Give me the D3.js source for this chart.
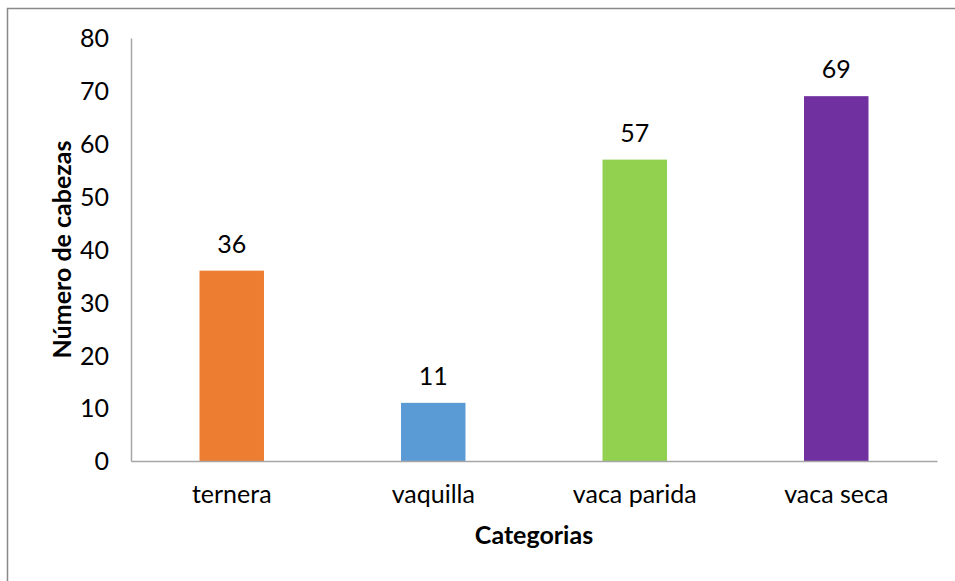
<!DOCTYPE html>
<html lang="es">
<head>
<meta charset="UTF-8">
<title>Número de cabezas por categoría</title>
<script src="https://d3js.org/d3.v7.min.js"></script>
<style>
  body { margin: 0; background: #fff; }
  text { font-family: Lato, "Open Sans", sans-serif; fill: #000; }
</style>
</head>
<body>
<svg width="955" height="581"></svg>
<script>
// datos
const categorias = ["ternera", "vaquilla", "vaca parida", "vaca seca"];
const cabezas = [36, 11, 57, 69];
const colores = ["#ed7d31", "#5b9bd5", "#92d050", "#7030a0"];
const yTicks = [0, 10, 20, 30, 40, 50, 60, 70, 80];

const svg = d3.select("svg");
const margin = {top: 38, right: 18, bottom: 120, left: 131};
const width = 955 - margin.left - margin.right;
const height = 581 - margin.top - margin.bottom;
const fs = "25px";

// marco del gráfico
svg.append("rect")
    .attr("x", 7.5).attr("y", 8.5)
    .attr("width", 960).attr("height", 600)
    .attr("fill", "none")
    .attr("stroke", "#898989")
    .attr("stroke-width", 1.5);

const g = svg.append("g").attr("transform", `translate(${margin.left},${margin.top})`);

const x = d3.scaleBand()
    .domain(categorias)
    .range([0, width])
    .paddingInner(0.68)
    .paddingOuter(0.34);

const y = d3.scaleLinear()
    .domain([0, 80])
    .range([height, 0]);

// eje Y
const yAxis = g.append("g")
    .call(d3.axisLeft(y).tickValues(yTicks).tickSize(0).tickPadding(22));
yAxis.select(".domain").attr("stroke", "#a6a6a6").attr("stroke-width", 1.5);
yAxis.selectAll("text").style("font-size", fs).attr("dy", "0.35em");

// barras
g.selectAll(".bar")
    .data(cabezas)
    .enter().append("rect")
    .attr("class", "bar")
    .attr("x", (d, i) => x(categorias[i]))
    .attr("y", d => y(d))
    .attr("width", x.bandwidth())
    .attr("height", d => height - y(d))
    .attr("fill", (d, i) => colores[i]);

// etiquetas de datos
g.selectAll(".label")
    .data(cabezas)
    .enter().append("text")
    .attr("class", "label")
    .attr("x", (d, i) => x(categorias[i]) + x.bandwidth() / 2)
    .attr("y", d => y(d) - 18)
    .attr("text-anchor", "middle")
    .style("font-size", fs)
    .text(d => d);

// eje X
const xAxis = g.append("g")
    .attr("transform", `translate(0,${height})`)
    .call(d3.axisBottom(x).tickSize(0).tickPadding(24));
xAxis.select(".domain").attr("stroke", "#a6a6a6").attr("stroke-width", 1.5);
xAxis.selectAll("text").style("font-size", fs);

// títulos de ejes
g.append("text")
    .attr("x", width / 2)
    .attr("y", height + 83)
    .attr("text-anchor", "middle")
    .style("font-size", fs)
    .style("font-weight", "bold")
    .text("Categorias");

g.append("text")
    .attr("transform", `translate(${62 - margin.left},${height / 2}) rotate(-90)`)
    .attr("text-anchor", "middle")
    .attr("dy", "0.35em")
    .style("font-size", fs)
    .style("font-weight", "bold")
    .text("Número de cabezas");
</script>
</body>
</html>
